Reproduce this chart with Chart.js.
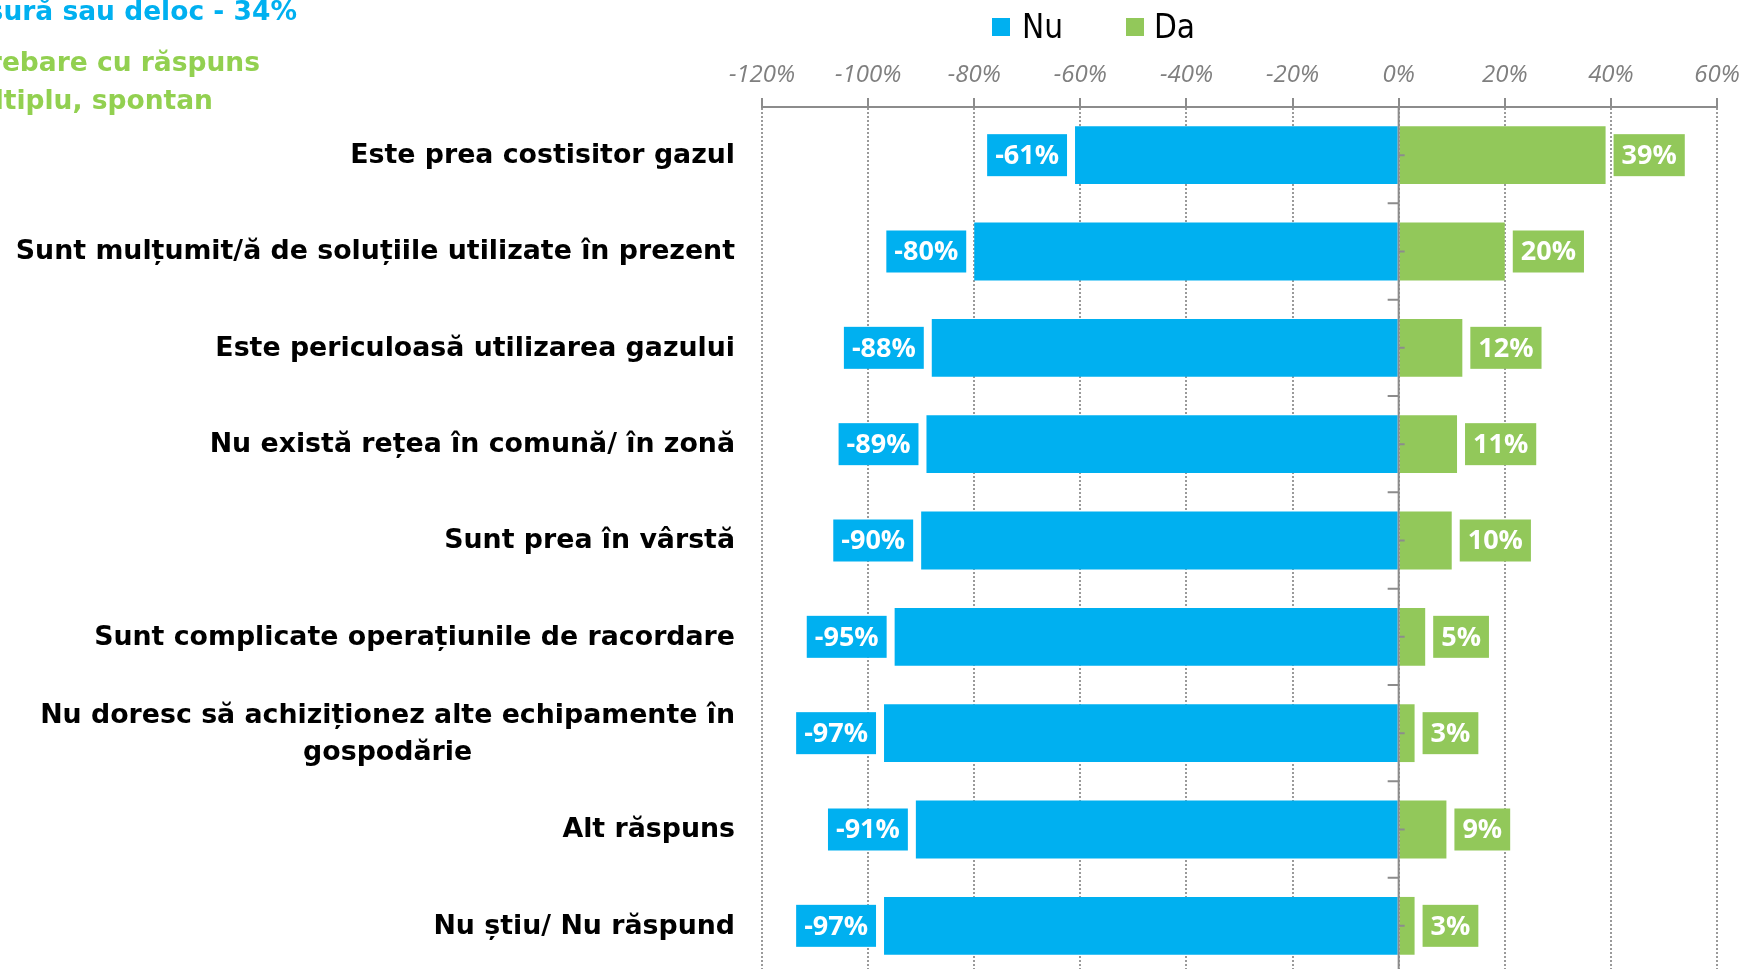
<!DOCTYPE html>
<html lang="ro">
<head>
<meta charset="utf-8">
<title>Motive pentru care nu s-a racordat la gaz</title>
<script src="https://cdn.jsdelivr.net/npm/chart.js@4.4.1/dist/chart.umd.min.js"></script>
<style>
    html, body { margin: 0; padding: 0; background: #fff; overflow: hidden; }
    #wrap { position: relative; width: 1744px; height: 969px; overflow: hidden; }
    #chart { position: absolute; left: 0; top: 0; }
    .note { position: absolute; font-family: 'DejaVu Sans', sans-serif; font-weight: 700; font-size: 26.5px; line-height: 26.5px; white-space: nowrap; text-align: right; }
    .note.blue { color: #00b0f0; }
    .note.green { color: #92d050; }
    .lg-box { position: absolute; width: 18px; height: 18px; top: 18px; }
    .lg-text { position: absolute; top: 10px; font-family: 'Liberation Sans Narrow', 'DejaVu Sans Condensed', sans-serif; font-size: 33px; line-height: 33px; color: #000; }
</style>
</head>
<body>
<div id="wrap">
    <canvas id="chart" width="1744" height="985"></canvas>
    <div class="note blue" style="right:1447px; top:-2px;">Interesat în mică măsură sau deloc - 34%</div>
    <div class="note green" style="right:1484px; top:49px;">Întrebare cu răspuns</div>
    <div class="note green" style="right:1531px; top:87px;">multiplu, spontan</div>
    <div class="lg-box" style="left:992px; background:#00b0f0;"></div>
    <div class="lg-text" style="left:1022px;">Nu</div>
    <div class="lg-box" style="left:1126px; background:#92c85a;"></div>
    <div class="lg-text" style="left:1154px;">Da</div>
</div>
<script>
// date
const categories = [
    'Este prea costisitor gazul',
    'Sunt mulțumit/ă de soluțiile utilizate în prezent',
    'Este periculoasă utilizarea gazului',
    'Nu există rețea în comună/ în zonă',
    'Sunt prea în vârstă',
    'Sunt complicate operațiunile de racordare',
    ['Nu doresc să achiziționez alte echipamente în', 'gospodărie'],
    'Alt răspuns',
    'Nu știu/ Nu răspund'
];
const nuValues = [-61, -80, -88, -89, -90, -95, -97, -91, -97];
const daValues = [39, 20, 12, 11, 10, 5, 3, 9, 3];
const seriesNames = ['Nu', 'Da'];
const axisMin = -120;
const axisMax = 60;
const axisStep = 20;

const BLUE = '#00b0f0';
const GREEN = '#92c85a';
const AXIS_GREY = '#8c8c8c';

// etichete de categorie (aliniate la dreapta, rânduri multiple centrate)
const categoryLabels = {
    id: 'categoryLabels',
    afterDraw(chart) {
        const { ctx, chartArea } = chart;
        const yScale = chart.scales.y;
        const right = chartArea.left - 27;
        const lineH = 37;
        ctx.save();
        ctx.font = 'bold 26.8px "DejaVu Sans", sans-serif';
        ctx.fillStyle = '#000';
        ctx.textBaseline = 'middle';
        ctx.textAlign = 'center';
        categories.forEach((cat, i) => {
            const lines = Array.isArray(cat) ? cat : [cat];
            const y = yScale.getPixelForValue(i);
            const blockW = Math.max(...lines.map(l => ctx.measureText(l).width));
            const cx = right - blockW / 2;
            lines.forEach((line, j) => {
                const ly = y + (j - (lines.length - 1) / 2) * lineH + 1;
                ctx.fillText(line, cx, ly);
            });
        });
        ctx.restore();
    }
};

// axa verticală în dreptul lui 0% cu gradațiile ei
const zeroAxis = {
    id: 'zeroAxis',
    afterDatasetsDraw(chart) {
        const { ctx, chartArea } = chart;
        const x0 = chart.scales.x.getPixelForValue(0);
        const yScale = chart.scales.y;
        const band = yScale.getPixelForValue(1) - yScale.getPixelForValue(0);
        ctx.save();
        ctx.strokeStyle = AXIS_GREY;
        ctx.lineWidth = 2;
        ctx.beginPath();
        ctx.moveTo(x0, chartArea.top);
        ctx.lineTo(x0, chartArea.bottom);
        for (let i = 0; i < categories.length; i++) {
            const yc = yScale.getPixelForValue(i);
            ctx.moveTo(x0, yc);
            ctx.lineTo(x0 + 6, yc);
            if (i > 0) {
                const yb = yc - band / 2;
                ctx.moveTo(x0 - 11, yb);
                ctx.lineTo(x0, yb);
            }
        }
        ctx.stroke();
        ctx.restore();
    }
};

// etichete de valoare în casete colorate, lângă capătul barei
const valueBoxes = {
    id: 'valueBoxes',
    afterDatasetsDraw(chart) {
        const { ctx } = chart;
        ctx.save();
        ctx.font = 'bold 27px "Open Sans", sans-serif';
        ctx.textAlign = 'center';
        ctx.textBaseline = 'middle';
        chart.data.datasets.forEach((ds, di) => {
            const meta = chart.getDatasetMeta(di);
            meta.data.forEach((bar, i) => {
                const v = ds.data[i];
                const txt = v + '%';
                const w = ctx.measureText(txt).width + 16;
                const h = 42;
                const left = v < 0 ? bar.x - 8 - w : bar.x + 8;
                ctx.fillStyle = ds.backgroundColor;
                ctx.fillRect(left, bar.y - h / 2, w, h);
                ctx.fillStyle = '#fff';
                ctx.fillText(txt, left + w / 2, bar.y + 1);
            });
        });
        ctx.restore();
    }
};

new Chart(document.getElementById('chart').getContext('2d'), {
    type: 'bar',
    data: {
        labels: categories,
        datasets: [
            { label: seriesNames[0], data: nuValues, backgroundColor: BLUE, borderWidth: 0 },
            { label: seriesNames[1], data: daValues, backgroundColor: GREEN, borderWidth: 0 }
        ]
    },
    options: {
        indexAxis: 'y',
        responsive: false,
        devicePixelRatio: 1,
        animation: false,
        categoryPercentage: 0.6,
        barPercentage: 1,
        layout: { padding: { left: 762, right: 27, top: 0, bottom: 11 } },
        plugins: {
            legend: { display: false },
            tooltip: { enabled: false }
        },
        scales: {
            x: {
                position: 'top',
                stacked: true,
                min: axisMin,
                max: axisMax,
                afterFit(scale) {
                    scale.height = 107;
                    scale.paddingLeft = 0;
                    scale.paddingRight = 0;
                },
                ticks: {
                    stepSize: axisStep,
                    padding: 8,
                    color: '#7f7f7f',
                    font: { family: '"Open Sans", sans-serif', size: 24, style: 'italic' },
                    callback: (v) => v + '%'
                },
                grid: {
                    color: '#9a9a9a',
                    lineWidth: 2,
                    tickLength: 9,
                    tickColor: AXIS_GREY,
                    tickWidth: 2,
                    tickBorderDash: []
                },
                border: { color: AXIS_GREY, width: 2, dash: [2, 2] }
            },
            y: {
                stacked: true,
                display: false
            }
        }
    },
    plugins: [valueBoxes, zeroAxis, categoryLabels]
});
</script>
</body>
</html>
